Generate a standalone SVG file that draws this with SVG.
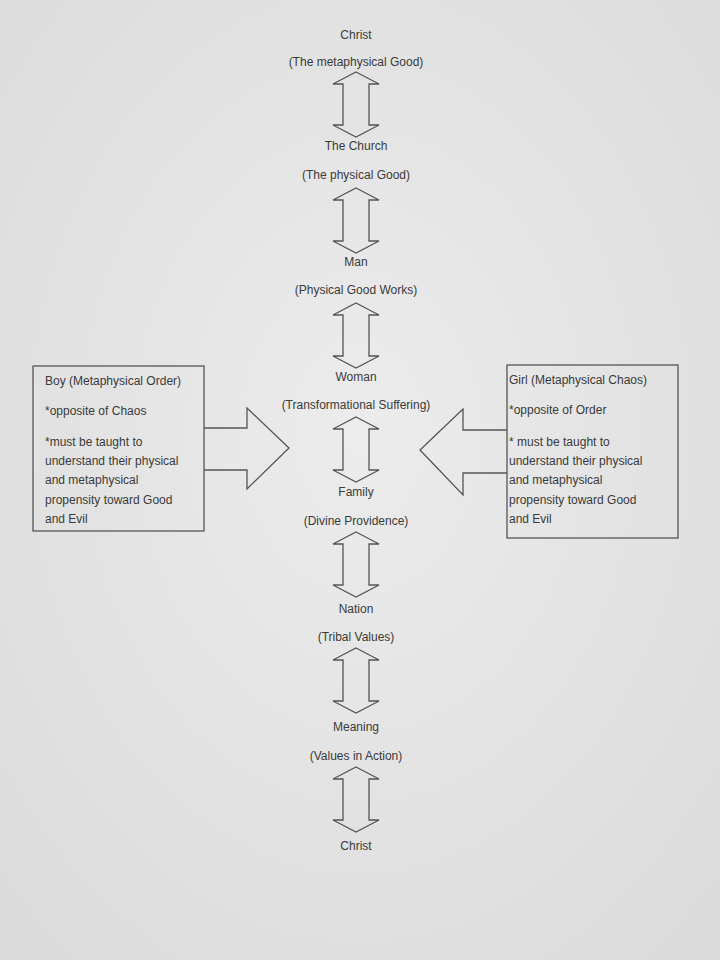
<svg xmlns="http://www.w3.org/2000/svg" width="720" height="960" viewBox="0 0 720 960">
<defs>
<radialGradient id="bg" cx="50%" cy="45%" r="75%">
<stop offset="0" stop-color="#ececec"/>
<stop offset="1" stop-color="#dadada"/>
</radialGradient>
<path id="dbl" d="M0,0 L23,12 L13,12 L13,53 L23,53 L0,65 L-23,53 L-13,53 L-13,12 L-23,12 Z"/>
</defs>
<style>
text{font-family:"Liberation Sans",Arial,sans-serif;font-size:12px;fill:#3a3a3a}
.c{text-anchor:middle}
.ln{fill:none;stroke:#555;stroke-width:1.3}
.ar{fill:url(#bg);stroke:#555;stroke-width:1.3}
</style>
<rect width="720" height="960" fill="url(#bg)"/>
<g id="connectors">
<use href="#dbl" x="356" y="72" class="ln"/>
<use href="#dbl" x="356" y="188" class="ln"/>
<use href="#dbl" x="356" y="303" class="ln"/>
<use href="#dbl" x="356" y="417" class="ln"/>
<use href="#dbl" x="356" y="532" class="ln"/>
<use href="#dbl" x="356" y="648" class="ln"/>
<use href="#dbl" x="356" y="767" class="ln"/>
<path class="ln" d="M204,428 L247,428 L247,408 L289,448 L247,489 L247,470 L204,470"/>
<path class="ln" d="M507,430 L463,430 L463,409 L420,450 L463,495 L463,473 L507,473"/>
</g>
<g id="christ-top"><text class="c" x="356" y="39">Christ</text><text class="c" x="356" y="66">(The metaphysical Good)</text></g>
<g id="church"><text class="c" x="356" y="150">The Church</text><text class="c" x="356" y="179">(The physical Good)</text></g>
<g id="man"><text class="c" x="356" y="266">Man</text><text class="c" x="356" y="294">(Physical Good Works)</text></g>
<g id="woman"><text class="c" x="356" y="381">Woman</text><text class="c" x="356" y="409">(Transformational Suffering)</text></g>
<g id="family"><text class="c" x="356" y="496">Family</text><text class="c" x="356" y="525">(Divine Providence)</text></g>
<g id="nation"><text class="c" x="356" y="613">Nation</text><text class="c" x="356" y="641">(Tribal Values)</text></g>
<g id="meaning"><text class="c" x="356" y="731">Meaning</text><text class="c" x="356" y="760">(Values in Action)</text></g>
<g id="christ-bottom"><text class="c" x="356" y="850">Christ</text></g>
<g id="boy">
<rect class="ln" x="33" y="366" width="171" height="165"/>
<text x="45" y="385">Boy (Metaphysical Order)</text>
<text x="45" y="415">*opposite of Chaos</text>
<text x="45" y="446">*must be taught to</text>
<text x="45" y="465">understand their physical</text>
<text x="45" y="484">and metaphysical</text>
<text x="45" y="504">propensity toward Good</text>
<text x="45" y="523">and Evil</text>
</g>
<g id="girl">
<rect class="ln" x="507" y="365" width="171" height="173"/>
<text x="509" y="384">Girl (Metaphysical Chaos)</text>
<text x="509" y="414">*opposite of Order</text>
<text x="509" y="446">* must be taught to</text>
<text x="509" y="465">understand their physical</text>
<text x="509" y="484">and metaphysical</text>
<text x="509" y="504">propensity toward Good</text>
<text x="509" y="523">and Evil</text>
</g>
</svg>
